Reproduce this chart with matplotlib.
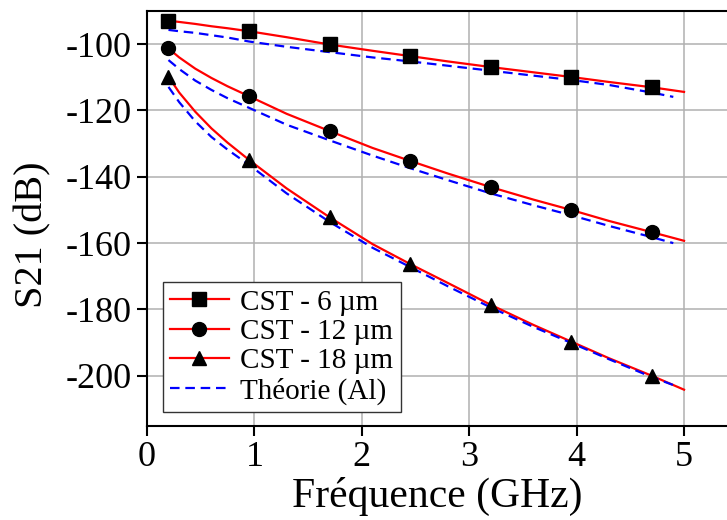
import matplotlib
matplotlib.use("Agg")
import matplotlib.pyplot as plt

# ---- data ----
f_mk = [0.2, 0.95, 1.7, 2.45, 3.2, 3.95, 4.7]
cst6_mk = [-92.9, -96.1, -100.1, -103.6, -106.9, -109.9, -113.0]
cst12_mk = [-101.3, -115.7, -126.2, -135.2, -143.1, -150.0, -156.7]
cst18_mk = [-109.8, -134.9, -152.2, -166.3, -178.6, -189.7, -200.0]

f_line = [0.2, 0.3, 0.45, 0.6, 0.75, 0.95, 1.3, 1.7, 2.1, 2.45, 2.8, 3.2, 3.6, 3.95, 4.3, 4.7, 5.0]
cst6_line = [-92.9, -93.3, -93.9, -94.6, -95.2, -96.1, -97.9, -100.1, -102.0, -103.6, -105.2,
             -106.9, -108.5, -109.9, -111.4, -113.0, -114.4]
cst12_line = [-101.3, -104.0, -107.4, -110.2, -112.7, -115.7, -121.0, -126.2, -131.3, -135.2,
              -139.0, -143.1, -146.9, -150.0, -153.3, -156.7, -159.3]
cst18_line = [-109.8, -114.6, -120.4, -125.4, -129.7, -134.9, -143.5, -152.2, -160.3, -166.3,
              -172.0, -178.6, -184.7, -189.7, -194.7, -200.0, -204.2]

f_th = [0.2, 0.3, 0.45, 0.6, 0.75, 0.95, 1.3, 1.7, 2.1, 2.45, 2.8, 3.2, 3.6, 3.95, 4.3, 4.7, 4.9]
th6 = [-95.7, -96.1, -96.6, -97.3, -98.0, -99.2, -100.8, -102.4, -104.0, -105.2, -106.5,
       -108.0, -109.5, -110.8, -112.3, -114.6, -115.9]
th12 = [-104.8, -107.5, -111.0, -113.8, -116.3, -119.2, -124.3, -129.0, -133.6, -137.4,
        -141.0, -145.0, -148.6, -151.6, -154.8, -158.2, -160.0]
th18 = [-112.9, -117.5, -123.3, -128.0, -131.8, -136.4, -145.0, -153.6, -161.4, -167.2,
        -173.0, -179.4, -185.3, -190.1, -195.0, -200.4, -202.8]

labels = ["CST - 6 µm", "CST - 12 µm", "CST - 18 µm", "Théorie (Al)"]
xticks = [0, 1, 2, 3, 4, 5]
yticks = [-200, -180, -160, -140, -120, -100]

plt.rcParams['font.family'] = ['Liberation Serif', 'DejaVu Serif']
plt.rcParams['axes.unicode_minus'] = False

fig = plt.figure(figsize=(7.27, 5.2), dpi=100)
ax = fig.add_axes([147 / 727, 1 - 425.5 / 520, 1 - 147 / 727, (425.5 - 11) / 520])

red = '#ff0000'
blue = '#0000ff'
lw = 1.6
ms = 10

handles = []
for ln, mk, marker in [(cst6_line, cst6_mk, 's'), (cst12_line, cst12_mk, 'o'), (cst18_line, cst18_mk, '^')]:
    ax.plot(f_line, ln, color=red, lw=lw, zorder=3)
    ax.plot(f_mk, mk, linestyle='none', marker=marker, color='black', ms=ms, zorder=4)
    h, = ax.plot([], [], color=red, lw=lw, marker=marker, mfc='black', mec='black', ms=ms)
    handles.append(h)

for th in [th6, th12, th18]:
    ax.plot(f_th, th, color=blue, lw=lw, dashes=(4.3, 2.6), zorder=3.5)
h, = ax.plot([], [], color=blue, lw=lw, dashes=(4.3, 2.6))
handles.append(h)

ax.set_xlim(0, 5.4)
ax.set_ylim(-215, -90)
ax.set_xticks(xticks)
ax.set_yticks(yticks)
ax.grid(True, color='#b0b0b0', lw=1.1, zorder=0)
ax.set_axisbelow(True)
for s in ['left', 'bottom', 'top']:
    ax.spines[s].set_linewidth(1.5)
    ax.spines[s].set_color('black')
ax.spines['right'].set_visible(False)
ax.tick_params(axis='both', direction='out', length=7, width=1.5, labelsize=26, pad=4)

ax.set_xlabel("Fréquence (GHz)", fontsize=30, labelpad=2)
ax.set_ylabel("S21 (dB)", fontsize=29)
ax.yaxis.set_label_coords(-0.165, 0.46)

leg = ax.legend(handles, labels, loc='lower left', bbox_to_anchor=(0.0276, 0.033),
                borderaxespad=0, fontsize=21, numpoints=1, handlelength=2.0,
                handletextpad=0.4, labelspacing=0.1, borderpad=0.25,
                fancybox=False, framealpha=1, edgecolor='#333333')
leg.get_frame().set_linewidth(1.0)

fig.savefig("out.png", dpi=100)
